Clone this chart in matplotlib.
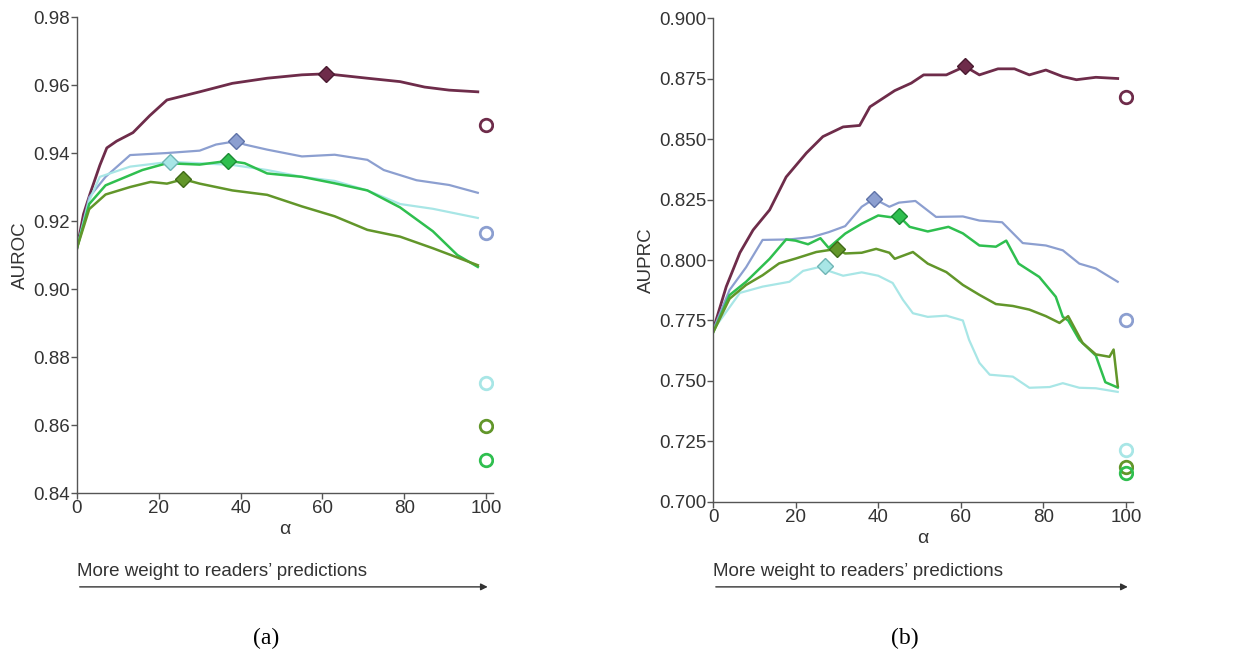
import matplotlib.pyplot as plt

plt.rcParams['font.family'] = ['Liberation Sans', 'DejaVu Sans']

# ---- panel (a): AUROC vs alpha ----
a_maroon_x = [0, 1.6, 3.2, 5.6, 7.3, 9.7, 13.7, 17.8, 22, 30, 38, 46.5, 55, 61, 71, 79, 85,
              91, 98]
a_maroon_y = [0.912, 0.922, 0.928, 0.9364, 0.9415, 0.9435, 0.946, 0.951, 0.9556, 0.958,
              0.9605, 0.962, 0.963, 0.9633, 0.962, 0.961, 0.9594, 0.9585, 0.958]
a_blue_x = [0, 3, 7, 13, 22, 30, 34, 39, 41, 46.5, 55, 63, 71, 75, 83, 91, 98]
a_blue_y = [0.912, 0.927, 0.933, 0.9394, 0.940, 0.9407, 0.9425, 0.9435, 0.9425, 0.941,
            0.939, 0.9395, 0.938, 0.935, 0.932, 0.9306, 0.9283]
a_cyan_x = [0, 3, 5.6, 13, 22.7, 30, 38, 46.5, 55, 63, 71, 79, 87, 98]
a_cyan_y = [0.912, 0.926, 0.933, 0.936, 0.9374, 0.937, 0.9365, 0.935, 0.933, 0.9318,
            0.929, 0.925, 0.9236, 0.9209]
a_green_x = [0, 3, 7, 16, 22, 30, 37, 41, 46.5, 55, 63, 71, 79, 87, 93, 98]
a_green_y = [0.912, 0.925, 0.9305, 0.935, 0.937, 0.9366, 0.9377, 0.937, 0.934, 0.933,
             0.9311, 0.929, 0.924, 0.917, 0.910, 0.9065]
a_olive_x = [0, 3, 7, 13, 18, 22, 26, 30, 38, 46.5, 55, 63, 71, 79, 87, 98]
a_olive_y = [0.912, 0.9235, 0.9278, 0.930, 0.9315, 0.931, 0.9323, 0.931, 0.929, 0.9277,
             0.9243, 0.9214, 0.9174, 0.9154, 0.912, 0.907]
a_best_x = [61, 39, 22.7, 37, 26]
a_best_y = [0.9633, 0.9435, 0.9374, 0.9377, 0.9323]
a_reader_y = [0.9483, 0.9165, 0.8724, 0.8497, 0.8597]

# ---- panel (b): AUPRC vs alpha ----
b_maroon_x = [0, 3.2, 6.5, 9.7, 13.7, 17.7, 22.6, 26.6, 31.5, 35.5, 38, 44, 48, 51, 56.5,
              61, 64.5, 69, 73, 76.6, 80.6, 84.7, 88, 92.7, 98]
b_maroon_y = [0.771, 0.789, 0.803, 0.8124, 0.8207, 0.8343, 0.8442, 0.851, 0.855, 0.8556,
              0.8633, 0.870, 0.8731, 0.8765, 0.8765, 0.880, 0.8765, 0.879, 0.879, 0.8765,
              0.8785, 0.8758, 0.8745, 0.8755, 0.875]
b_blue_x = [0, 4, 8, 12, 18.5, 24, 28, 32, 36, 39, 42.7, 45, 49, 54, 60.5, 64.5, 70, 75,
            80.6, 84.7, 88.7, 92.7, 98]
b_blue_y = [0.771, 0.7876, 0.797, 0.8083, 0.8085, 0.8095, 0.8115, 0.814, 0.822, 0.8253,
            0.822, 0.8237, 0.8244, 0.8178, 0.818, 0.8163, 0.8156, 0.807, 0.806, 0.804,
            0.7985, 0.7965, 0.791]
b_cyan_x = [0, 6.5, 12, 18.5, 21.8, 27, 28, 31.5, 36, 40, 43.5, 46, 48.4, 52, 56.5, 60.5,
            62, 64.5, 67, 72.6, 76.6, 81.5, 84.7, 88.7, 92.7, 98]
b_cyan_y = [0.771, 0.7864, 0.789, 0.791, 0.7955, 0.7976, 0.7955, 0.7935, 0.7949, 0.7935,
            0.7905, 0.7835, 0.778, 0.7765, 0.777, 0.775, 0.767, 0.7575, 0.7526, 0.7518,
            0.7472, 0.7475, 0.7491, 0.7472, 0.747, 0.7455]
b_green_x = [0, 4, 8, 13.7, 17.7, 20, 23, 26, 28, 32, 36, 40, 43, 45, 47.6, 52, 57, 60.5,
             64.5, 68.5, 71, 74, 79, 83, 84.7, 86, 88.7, 92.7, 95, 98]
b_green_y = [0.770, 0.7855, 0.791, 0.8005, 0.8085, 0.808, 0.8065, 0.809, 0.805, 0.8109,
             0.815, 0.8184, 0.8177, 0.8182, 0.8137, 0.8118, 0.8137, 0.811, 0.806, 0.8055,
             0.808, 0.7985, 0.793, 0.7848, 0.7765, 0.775, 0.767, 0.7605, 0.7495, 0.7473]
b_olive_x = [0, 4, 8, 12, 16, 20, 25, 30, 32, 36, 39.5, 42.7, 44, 48.4, 52, 56.5, 60.5,
             64.5, 68.5, 72.6, 76.6, 80.6, 83.9, 86, 89.5, 92.7, 96, 97, 98]
b_olive_y = [0.770, 0.784, 0.7897, 0.7937, 0.7986, 0.8006, 0.8033, 0.8046, 0.8027, 0.803,
             0.8046, 0.803, 0.8005, 0.8033, 0.7985, 0.795, 0.7897, 0.7856, 0.7818, 0.781,
             0.7795, 0.7768, 0.774, 0.7768, 0.7657, 0.761, 0.760, 0.763, 0.748]
b_best_x = [61, 39, 27, 45, 30]
b_best_y = [0.880, 0.8253, 0.7976, 0.8182, 0.8046]
b_reader_y = [0.8674, 0.775, 0.7216, 0.7121, 0.7146]

colors = ['#6e2c4a', '#8c9fd0', '#a8e6e6', '#2fbf4f', '#62962a']
edges = ['#4a1a30', '#5f73a8', '#6fb5b5', '#1b8a34', '#3f6a17']
widths = [2.0, 1.6, 1.6, 1.8, 1.8]

fig = plt.figure(figsize=(12.33, 6.55), dpi=100)
ax1 = fig.add_axes([0.0624, 0.2473, 0.3374, 0.7267])
ax2 = fig.add_axes([0.5783, 0.2336, 0.3406, 0.7389])

panels = [
    (ax1, [(a_maroon_x, a_maroon_y), (a_blue_x, a_blue_y), (a_cyan_x, a_cyan_y),
           (a_green_x, a_green_y), (a_olive_x, a_olive_y)],
     a_best_x, a_best_y, a_reader_y, 'AUROC', (0.84, 0.98),
     [0.84, 0.86, 0.88, 0.90, 0.92, 0.94, 0.96, 0.98], '{:.2f}'),
    (ax2, [(b_maroon_x, b_maroon_y), (b_blue_x, b_blue_y), (b_cyan_x, b_cyan_y),
           (b_green_x, b_green_y), (b_olive_x, b_olive_y)],
     b_best_x, b_best_y, b_reader_y, 'AUPRC', (0.70, 0.90),
     [0.700, 0.725, 0.750, 0.775, 0.800, 0.825, 0.850, 0.875, 0.900], '{:.3f}'),
]

# draw order: olive and cyan behind, maroon on top
order = [4, 2, 1, 3, 0]
for ax, series, bx, by, ry, ylab, ylim, yticks, fmt in panels:
    for i in order:
        x, y = series[i]
        ax.plot(x, y, color=colors[i], lw=widths[i], zorder=2 + i * 0.1)
    for i in order:
        ax.plot(bx[i], by[i], marker='D', ms=8, mfc=colors[i], mec=edges[i],
                mew=1.0, zorder=4)
        ax.plot(100, ry[i], marker='o', ms=9, mfc='none', mec=colors[i],
                mew=2.0, zorder=4)
    ax.set_xlim(0, 101.7)
    ax.set_ylim(*ylim)
    ax.set_xticks([0, 20, 40, 60, 80, 100])
    ax.set_yticks(yticks)
    ax.set_yticklabels([fmt.format(t) for t in yticks])
    ax.spines['top'].set_visible(False)
    ax.spines['right'].set_visible(False)
    for s in ['left', 'bottom']:
        ax.spines[s].set_color('#555555')
        ax.spines[s].set_linewidth(1.0)
    ax.tick_params(colors='#555555', labelcolor='#333333', labelsize=13.5,
                   length=4, width=1.0, pad=1)
    ax.set_xlabel('α', fontsize=14, color='#333333', labelpad=3)
    ax.set_ylabel(ylab, fontsize=13.5, color='#333333', labelpad=3)

# arrows and captions below each panel
for ax, cap in [(ax1, '(a)'), (ax2, '(b)')]:
    pos = ax.get_position()
    fig.text(pos.x0, 0.127, "More weight to readers\u2019 predictions", fontsize=13.5,
             color='#333333', ha='left', va='center')
    fig.add_artist(plt.Annotation('', xy=(pos.x1 - 0.002, 0.104), xytext=(pos.x0, 0.104),
                                  xycoords='figure fraction', textcoords='figure fraction',
                                  arrowprops=dict(arrowstyle='-|>', color='#333333', lw=1.0,
                                                  mutation_scale=10)))
    fig.text((pos.x0 + pos.x1) / 2 - 0.015, 0.025, cap, fontsize=17,
             family=['Liberation Serif', 'DejaVu Serif'], ha='center', va='center')

fig.savefig('out.png', dpi=100)
